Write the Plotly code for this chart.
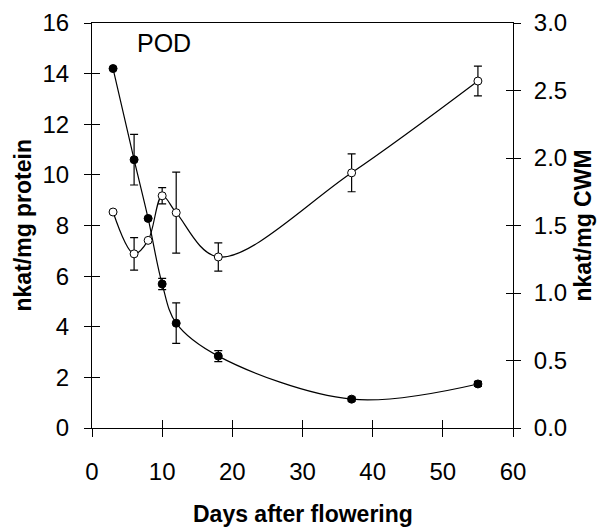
import plotly.graph_objects as go

# Data
days = [3, 6, 8, 10, 12, 18, 37, 55]
protein = [14.2, 10.6, 8.28, 5.69, 4.14, 2.84, 1.14, 1.74]
protein_err = [0.0, 1.0, 0.0, 0.22, 0.8, 0.22, 0.08, 0.1]
cwm = [1.60, 1.29, 1.39, 1.72, 1.595, 1.267, 1.89, 2.57]
cwm_err = [0.0, 0.12, 0.0, 0.06, 0.3, 0.105, 0.14, 0.11]

x_ticks = [0, 10, 20, 30, 40, 50, 60]
y_ticks = [0, 2, 4, 6, 8, 10, 12, 14, 16]
y2_ticks = [0.0, 0.5, 1.0, 1.5, 2.0, 2.5, 3.0]
y2_labels = ["0.0", "0.5", "1.0", "1.5", "2.0", "2.5", "3.0"]

FONT = "Liberation Sans, Arial, sans-serif"

fig = go.Figure()

fig.add_trace(go.Scatter(
    x=days, y=protein, mode="lines+markers",
    line=dict(color="black", width=1.2, shape="spline", smoothing=1.0),
    marker=dict(symbol="circle", size=8, color="black", line=dict(color="black", width=1)),
    error_y=dict(type="data", array=protein_err, color="black", thickness=1.2, width=4),
    xaxis="x", yaxis="y", showlegend=False,
))

fig.add_trace(go.Scatter(
    x=days, y=cwm, mode="lines+markers",
    line=dict(color="black", width=1.2, shape="spline", smoothing=1.0),
    marker=dict(symbol="circle", size=8, color="white", line=dict(color="black", width=1)),
    error_y=dict(type="data", array=cwm_err, color="black", thickness=1.2, width=4),
    xaxis="x", yaxis="y2", showlegend=False,
))

# invisible traces to register the overlay axes used for the inner half of the ticks
fig.add_trace(go.Scatter(x=[0], y=[0], mode="markers", marker=dict(opacity=0),
                         xaxis="x2", yaxis="y3", showlegend=False, hoverinfo="skip"))
fig.add_trace(go.Scatter(x=[0], y=[0], mode="markers", marker=dict(opacity=0),
                         xaxis="x2", yaxis="y4", showlegend=False, hoverinfo="skip"))

tickfont = dict(family=FONT, size=24, color="black")
titlefont = dict(family=FONT, size=23, color="black", weight="bold")

# page body has an 8px margin, so the figure is drawn 8px right and down
fig.update_layout(
    width=597, height=520,
    margin=dict(l=84, r=92, t=15, b=100, autoexpand=False),
    paper_bgcolor="white", plot_bgcolor="white",
    xaxis=dict(
        range=[0, 60], tickvals=x_ticks, ticks="outside", ticklen=8, tickwidth=1,
        tickcolor="black", showline=True, linecolor="black", linewidth=1, mirror=True,
        showgrid=False, zeroline=False, tickfont=tickfont, ticklabelstandoff=14,
        automargin=False,
    ),
    xaxis2=dict(
        range=[0, 60], tickvals=x_ticks, ticks="inside", ticklen=8, tickwidth=1,
        tickcolor="black", showline=False, showgrid=False, zeroline=False,
        showticklabels=False, overlaying="x", anchor="y", automargin=False,
    ),
    yaxis=dict(
        range=[0, 16], tickvals=y_ticks, ticks="outside", ticklen=7, tickwidth=1,
        tickcolor="black", showline=True, linecolor="black", linewidth=1,
        showgrid=False, zeroline=False, tickfont=tickfont, ticklabelstandoff=10,
        automargin=False,
    ),
    yaxis2=dict(
        range=[0, 3], tickvals=y2_ticks, ticktext=y2_labels, ticks="outside", ticklen=7,
        tickwidth=1, tickcolor="black", showline=True, linecolor="black", linewidth=1,
        showgrid=False, zeroline=False, tickfont=tickfont, ticklabelstandoff=8,
        overlaying="y", side="right", anchor="x", automargin=False,
    ),
    yaxis3=dict(
        range=[0, 16], tickvals=y_ticks, ticks="inside", ticklen=8, tickwidth=1,
        tickcolor="black", showline=False, showgrid=False, zeroline=False,
        showticklabels=False, overlaying="y", side="left", anchor="x", automargin=False,
    ),
    yaxis4=dict(
        range=[0, 3], tickvals=y2_ticks, ticks="inside", ticklen=7, tickwidth=1,
        tickcolor="black", showline=False, showgrid=False, zeroline=False,
        showticklabels=False, overlaying="y", side="right", anchor="x", automargin=False,
    ),
    annotations=[
        dict(text="POD", x=6.1, y=15.2, xref="x", yref="y", xanchor="left",
             yanchor="middle", showarrow=False,
             font=dict(family=FONT, size=25, color="black")),
        dict(text="nkat/mg protein", x=0, y=0.5, xref="paper", yref="paper",
             xshift=-70, textangle=-90, xanchor="center", yanchor="middle",
             showarrow=False, font=titlefont),
        dict(text="nkat/mg CWM", x=1, y=0.5, xref="paper", yref="paper",
             xshift=69, textangle=-90, xanchor="center", yanchor="middle",
             showarrow=False, font=titlefont),
        dict(text="Days after flowering", x=0.5, y=0, xref="paper", yref="paper",
             yshift=-86, xanchor="center", yanchor="middle",
             showarrow=False, font=titlefont),
    ],
)

fig.write_html("out.html")
